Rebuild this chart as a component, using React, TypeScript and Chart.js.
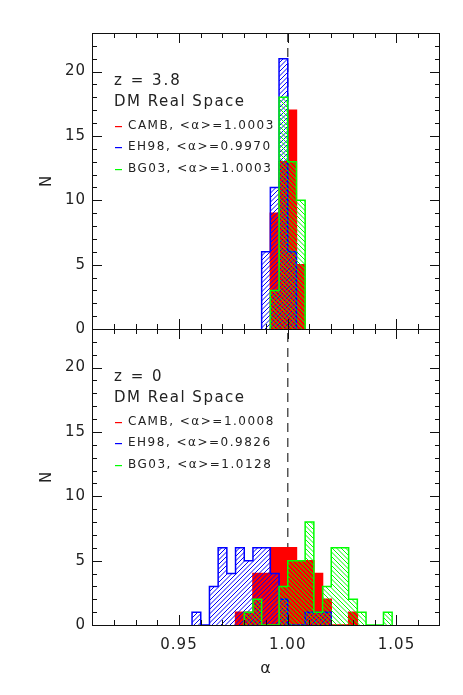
import React, { useEffect, useRef } from 'react';
import { Chart, registerables } from 'chart.js';

Chart.register(...registerables);

// ---------- data ----------
const BIN_WIDTH = 0.004;
const REF_ALPHA = 1.0;

const TOP_BIN_LEFT = [0.988, 0.992, 0.996, 1.0, 1.004];
const TOP_CAMB = [0, 9, 13, 17, 5];
const TOP_EH98 = [6, 11, 21, 6, 0];
const TOP_BG03 = [0, 3, 18, 13, 10];

const BOT_BIN_LEFT = [
  0.956, 0.96, 0.964, 0.968, 0.972, 0.976, 0.98, 0.984, 0.988, 0.992, 0.996, 1.0,
  1.004, 1.008, 1.012, 1.016, 1.02, 1.024, 1.028, 1.032, 1.036, 1.04, 1.044,
];
const BOT_CAMB = [0, 0, 0, 0, 0, 1, 1, 4, 4, 6, 6, 6, 5, 5, 4, 2, 0, 0, 1, 0, 0, 0, 0];
const BOT_EH98 = [1, 0, 3, 6, 4, 6, 5, 6, 6, 4, 2, 0, 0, 1, 1, 1, 0, 0, 0, 0, 0, 0, 0];
const BOT_BG03 = [0, 0, 0, 0, 0, 0, 1, 2, 0, 0, 3, 5, 5, 8, 1, 3, 6, 6, 2, 1, 0, 0, 1];

const SERIES_NAMES = ['CAMB', 'EH98', 'BG03'];
const TOP_MEANS = ['1.0003', '0.9970', '1.0003'];
const BOT_MEANS = ['1.0008', '0.9826', '1.0128'];
const PANEL_TITLES = ['z = 3.8', 'z = 0'];
const PANEL_SUBTITLE = 'DM Real Space';

const X_MIN = 0.91;
const X_MAX = 1.07;
const X_TICKS = [0.95, 1.0, 1.05];
const Y_MIN = 0;
const Y_MAX = 23;
const Y_TICKS = [0, 5, 10, 15, 20];

const COLORS = ['#ff0000', '#0000ff', '#00ff00'];
const FONT = '"DejaVu Sans", sans-serif';
const INK = '#222222';

// ---------- helpers ----------
function histPoints(left: number[], counts: number[]) {
  const i0 = counts.findIndex((c) => c > 0);
  let i1 = counts.length - 1;
  while (i1 > 0 && counts[i1] === 0) i1--;
  const pts: { x: number; y: number }[] = [{ x: left[i0], y: 0 }];
  for (let i = i0; i <= i1; i++) pts.push({ x: left[i], y: counts[i] });
  pts.push({ x: left[i1] + BIN_WIDTH, y: counts[i1] });
  pts.push({ x: left[i1] + BIN_WIDTH, y: 0 });
  return pts;
}

function makeHatch(color: string, rising: boolean) {
  const s = 9;
  const c = document.createElement('canvas');
  c.width = s;
  c.height = s;
  const g = c.getContext('2d')!;
  g.strokeStyle = color;
  g.lineWidth = 1;
  g.beginPath();
  for (let k = -3; k <= 5; k++) {
    const off = k * 4.5;
    if (rising) {
      g.moveTo(off + 2, -2);
      g.lineTo(off - s - 2, s + 2);
    } else {
      g.moveTo(off - 2, -2);
      g.lineTo(off + s + 2, s + 2);
    }
  }
  g.stroke();
  return g.createPattern(c, 'repeat')!;
}

const framePlugin = {
  id: 'frame',
  beforeLayout(chart: any) {
    chart.ctx.letterSpacing = '1px';
  },
  beforeDraw(chart: any) {
    chart.ctx.letterSpacing = '1px';
  },
  beforeDatasetsDraw(chart: any) {
    const { ctx, chartArea, scales } = chart;
    const x = scales.x.getPixelForValue(REF_ALPHA);
    ctx.save();
    ctx.strokeStyle = '#555555';
    ctx.lineWidth = 1.5;
    ctx.setLineDash([9, 6]);
    ctx.beginPath();
    ctx.moveTo(x, chartArea.top);
    ctx.lineTo(x, chartArea.bottom);
    ctx.stroke();
    ctx.restore();
  },
  afterDatasetsDraw(chart: any) {
    const { ctx, chartArea, scales } = chart;
    const left = chartArea.left;
    const right = chartArea.right;
    const xs = scales.x;
    ctx.save();
    ctx.strokeStyle = '#111111';
    ctx.lineWidth = 1;
    ['yTop', 'yBot'].forEach((id) => {
      const ys = scales[id];
      const top = ys.top;
      const bottom = ys.bottom;
      ctx.strokeRect(left + 0.5, top + 0.5, right - left - 1, bottom - top);
      ctx.beginPath();
      for (let v = Y_MIN + 1; v < Y_MAX; v++) {
        const y = Math.round(ys.getPixelForValue(v)) + 0.5;
        const len = v % 5 === 0 ? 10 : 5;
        ctx.moveTo(left, y);
        ctx.lineTo(left + len, y);
        ctx.moveTo(right, y);
        ctx.lineTo(right - len, y);
      }
      for (let k = 92; k <= 106; k++) {
        const v = k / 100;
        const x = Math.round(xs.getPixelForValue(v)) + 0.5;
        const len = X_TICKS.some((t) => Math.abs(t - v) < 1e-6) ? 10 : 5;
        ctx.moveTo(x, bottom);
        ctx.lineTo(x, bottom - len);
        ctx.moveTo(x, top);
        ctx.lineTo(x, top + len);
      }
      ctx.stroke();
    });
    ctx.restore();
  },
  afterDraw(chart: any) {
    const { ctx, chartArea, scales } = chart;
    const left = chartArea.left;
    ctx.save();
    ctx.textBaseline = 'middle';
    ctx.textAlign = 'left';
    ['yTop', 'yBot'].forEach((id, p) => {
      const top = scales[id].top;
      const means = p === 0 ? TOP_MEANS : BOT_MEANS;
      ctx.fillStyle = INK;
      ctx.font = `15px ${FONT}`;
      ctx.letterSpacing = '2px';
      ctx.fillText(PANEL_TITLES[p], left + 22, top + 48);
      ctx.letterSpacing = '1.5px';
      ctx.fillText(PANEL_SUBTITLE, left + 22, top + 69.5);
      ctx.font = `12px ${FONT}`;
      ctx.letterSpacing = '1.5px';
      SERIES_NAMES.forEach((name, i) => {
        const y = top + 92.5 + i * 21.5;
        ctx.fillStyle = INK;
        ctx.fillText(`${name}, <α>=${means[i]}`, left + 36, y);
        ctx.fillStyle = COLORS[i];
        ctx.fillRect(left + 23, Math.round(y), 7, 1.2);
      });
    });
    ctx.restore();
  },
};

export default function App() {
  const ref = useRef<HTMLCanvasElement | null>(null);
  useEffect(() => {
    if (!ref.current) return;
    const blueHatch = makeHatch(COLORS[1], true);
    const greenHatch = makeHatch(COLORS[2], false);
    const fills = [COLORS[0], blueHatch, greenHatch];
    const panels = [
      { axis: 'yTop', series: [TOP_CAMB, TOP_EH98, TOP_BG03], left: TOP_BIN_LEFT },
      { axis: 'yBot', series: [BOT_CAMB, BOT_EH98, BOT_BG03], left: BOT_BIN_LEFT },
    ];
    const datasets: any[] = [];
    panels.forEach((pn) => {
      pn.series.forEach((counts, i) => {
        datasets.push({
          label: `${SERIES_NAMES[i]} ${pn.axis}`,
          data: histPoints(pn.left, counts),
          yAxisID: pn.axis,
          xAxisID: 'x',
          stepped: 'before',
          fill: 'origin',
          backgroundColor: fills[i],
          borderColor: COLORS[i],
          borderWidth: 1.5,
          pointRadius: 0,
          order: 3 - i,
        });
      });
    });

    const yAxis = (weight: number) => ({
      type: 'linear',
      position: 'left',
      stack: 'panels',
      stackWeight: 1,
      weight,
      min: Y_MIN,
      max: Y_MAX,
      grid: { display: false, drawTicks: false },
      border: { display: false },
      afterBuildTicks: (s: any) => {
        s.ticks = Y_TICKS.map((v) => ({ value: v }));
      },
      afterFit: (s: any) => {
        s.width = 92;
      },
      ticks: { padding: 6, color: INK, font: { size: 15, family: FONT } },
      title: {
        display: true,
        text: 'N',
        color: INK,
        font: { size: 15, family: FONT },
        padding: { top: 38, bottom: 0 },
      },
    });

    const chart = new Chart(ref.current, {
      type: 'line',
      data: { datasets },
      plugins: [framePlugin],
      options: {
        animation: false,
        responsive: false,
        devicePixelRatio: 1,
        layout: { padding: { left: 0, right: 23, top: 33, bottom: 0 } },
        plugins: { legend: { display: false }, tooltip: { enabled: false } },
        scales: {
          x: {
            type: 'linear',
            position: 'bottom',
            min: X_MIN,
            max: X_MAX,
            grid: { display: false, drawTicks: false },
            border: { display: false },
            afterBuildTicks: (s: any) => {
              s.ticks = X_TICKS.map((v) => ({ value: v }));
            },
            afterFit: (s: any) => {
              s.height = 70;
            },
            ticks: {
              padding: 11,
              color: INK,
              maxRotation: 0,
              autoSkip: false,
              font: { size: 15, family: FONT },
              callback: (v: any) => Number(v).toFixed(2),
            },
            title: {
              display: true,
              text: 'α',
              color: INK,
              font: { size: 16, family: FONT },
              padding: { top: 0, bottom: 17 },
            },
          },
          yTop: yAxis(1),
          yBot: yAxis(0),
        } as any,
      },
    } as any);
    return () => chart.destroy();
  }, []);

  return (
    <div style={{ position: 'absolute', left: 0, top: 0, width: 463, height: 695, background: '#fff' }}>
      <canvas ref={ref} width={463} height={695} style={{ width: 463, height: 695, display: 'block' }} />
    </div>
  );
}
